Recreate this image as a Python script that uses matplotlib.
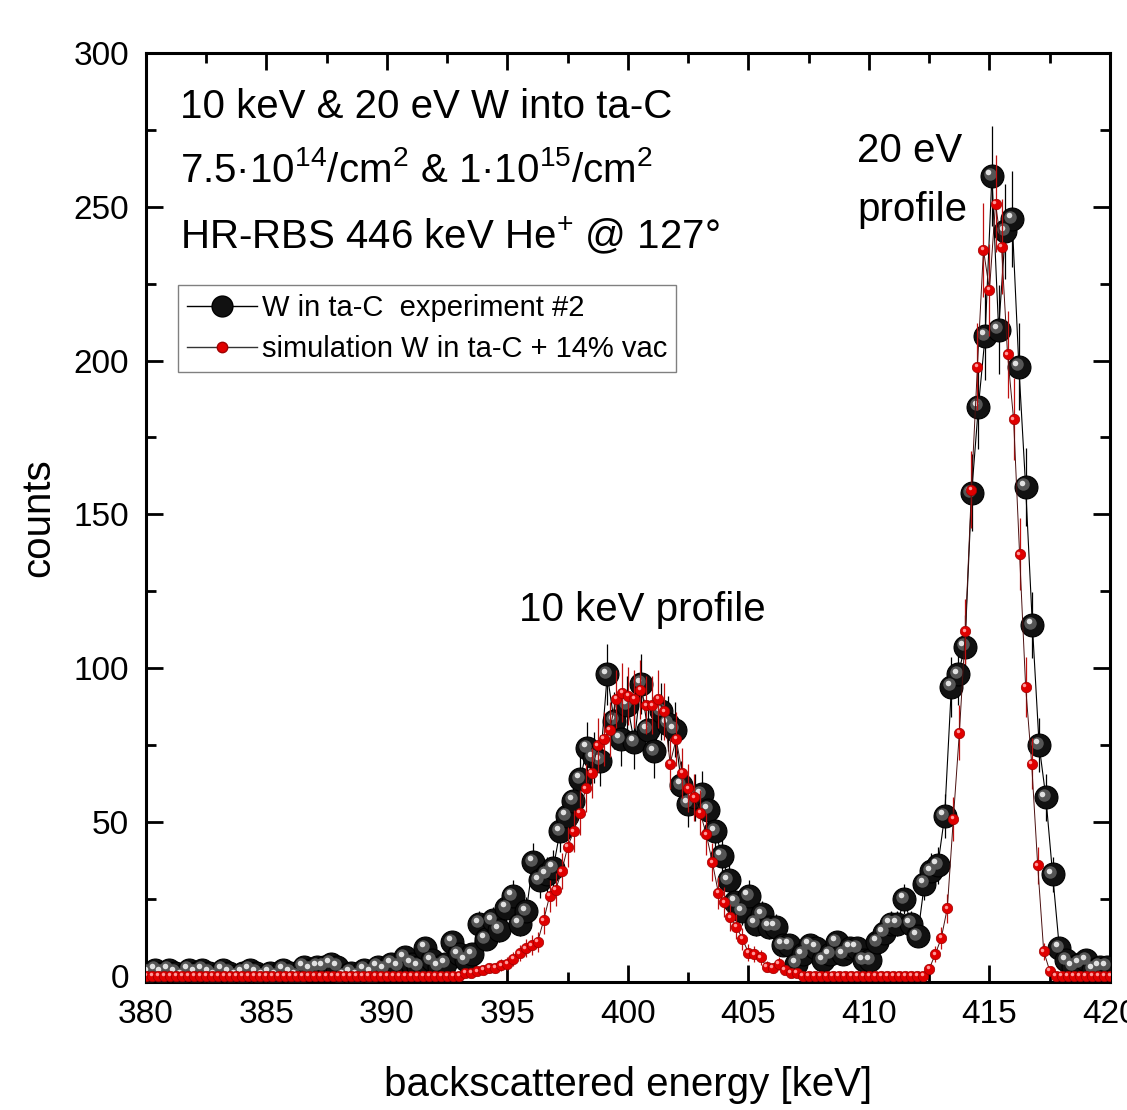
import numpy as np
import matplotlib
matplotlib.use('Agg')
import matplotlib.pyplot as plt
from matplotlib.lines import Line2D
from matplotlib.transforms import offset_copy
from matplotlib.ticker import MultipleLocator

plt.rcParams['font.family'] = ['Liberation Sans', 'DejaVu Sans']
plt.rcParams['mathtext.default'] = 'regular'

# experiment #2 (black), channel calibration and counts
exp_start, exp_step = 380.1, 0.28
exp_counts = [1, 2, 1, 2, 1, 0, 2, 1, 2, 1, 0, 2, 1, 0, 1, 2, 1, 0, 1, 0,
              2, 1, 0, 3, 2, 3, 3, 4, 3, 0, 1, 0, 2, 1,
              3, 2,
              4, 3, 6, 4, 3, 9, 5, 3, 4, 11, 7, 5, 7,
              17, 12, 18, 15, 22, 26, 17, 21, 37, 31, 33, 35,
              47, 52, 57, 64, 74, 71, 70,
              98, 83, 77, 88, 76, 95, 80, 73, 86, 82, 80,
              62, 56, 58, 59, 54, 47, 39, 31, 24, 21, 26, 17, 20, 16, 16, 10, 10, 4, 7, 10, 9,
              5, 7, 11, 7, 9, 9, 5, 5, 11, 14, 17, 17, 25, 17, 13,
              30, 34, 36, 52, 94, 98, 107, 157, 185, 208, 260, 210, 242, 246, 198, 159, 114, 75, 58, 33, 9,
              5, 3, 4, 5, 2, 3, 3]

# simulation W in ta-C + 14% vac (red)
sim_start, sim_step = 380.0, 0.25
sim_counts = ([0] * 53 +
              [1, 1, 1.5, 2, 2.6, 2.6, 3.5, 4, 5.5, 7.4, 9, 10, 11, 18, 26, 28, 34, 42, 47, 53,
               61, 66, 75, 77, 80, 90, 92, 91, 90, 93, 88, 88, 90, 86, 69, 77, 66, 61, 58, 53,
               46, 37, 27, 24, 19, 16, 12, 7.5, 7, 6, 3, 2.6, 4, 2, 1, 1] +
              [0] * 21 +
              [2.3, 7, 12.3, 22, 51, 79, 112, 158, 198, 236, 223, 251, 237, 202, 181, 137, 94,
               69, 36, 8, 1.6] +
              [0] * 10)

exp_counts = np.array(exp_counts, dtype=float)
sim_counts = np.array(sim_counts, dtype=float)
exp_e = exp_start + exp_step * np.arange(len(exp_counts))
sim_e = sim_start + sim_step * np.arange(len(sim_counts))

fig = plt.figure(figsize=(11.27, 11.10), dpi=100)
ax = fig.add_axes([0.1295, 0.1153, 0.8554, 0.837])

# experiment
ax.errorbar(exp_e, exp_counts, yerr=np.sqrt(exp_counts), fmt='-', color='black', lw=0.8,
            elinewidth=0.9, ecolor='black', zorder=2)
ax.plot(exp_e, exp_counts, 'o', ms=16.5, mfc='#111111', mec='black', mew=0.8, zorder=3)
tr1 = offset_copy(ax.transData, fig=fig, x=-1.7, y=1.7, units='points')
tr2 = offset_copy(ax.transData, fig=fig, x=-2.5, y=2.7, units='points')
ax.plot(exp_e, exp_counts, 'o', ms=9, color='#555555', mew=0, transform=tr1, zorder=3.1)
ax.plot(exp_e, exp_counts, 'o', ms=4, color='#e0e0e0', mew=0, transform=tr2, zorder=3.2)

# simulation
ax.errorbar(sim_e, sim_counts, yerr=np.sqrt(sim_counts), fmt='-', color='#4a1010', lw=0.7,
            elinewidth=0.9, ecolor='#c01010', zorder=4)
ax.plot(sim_e, sim_counts, 'o', ms=7.5, mfc='#e00000', mec='#a00000', mew=0.5, zorder=5)
tr3 = offset_copy(ax.transData, fig=fig, x=-1.0, y=1.1, units='points')
ax.plot(sim_e, sim_counts, 'o', ms=2.5, color='#ff9a9a', mew=0, transform=tr3, zorder=5.1)

ax.set_xlim(380, 420)
ax.set_ylim(-2, 300)
ax.xaxis.set_major_locator(MultipleLocator(5))
ax.xaxis.set_minor_locator(MultipleLocator(2.5))
ax.yaxis.set_major_locator(MultipleLocator(50))
ax.yaxis.set_minor_locator(MultipleLocator(25))
ax.tick_params(which='both', direction='in', top=True, right=True, width=2, labelsize=24)
ax.tick_params(which='major', length=12)
ax.tick_params(which='minor', length=7)
ax.tick_params(axis='x', which='major', pad=12)
ax.tick_params(axis='y', which='major', pad=12)
for s in ax.spines.values():
    s.set_linewidth(2.2)

ax.set_xlabel('backscattered energy [keV]', fontsize=29, labelpad=26)
ax.set_ylabel('counts', fontsize=29, labelpad=12)

ax.text(0.035, 0.930, '10 keV & 20 eV W into ta-C', transform=ax.transAxes, fontsize=29, va='baseline')
ax.text(0.035, 0.861, '7.5·10$^{14}$/cm$^{2}$ & 1·10$^{15}$/cm$^{2}$', transform=ax.transAxes,
        fontsize=29, va='baseline')
ax.text(0.035, 0.790, 'HR-RBS 446 keV He$^{+}$ @ 127°', transform=ax.transAxes, fontsize=29, va='baseline')
ax.text(400.6, 119, '10 keV profile', fontsize=29, ha='center', va='center')
ax.text(409.5, 268, '20 eV', fontsize=29, ha='left', va='center')
ax.text(409.5, 249, 'profile', fontsize=29, ha='left', va='center')

handles = [Line2D([0], [0], color='black', lw=1, marker='o', ms=15, mfc='#111111', mec='black'),
           Line2D([0], [0], color='#333333', lw=1, marker='o', ms=7.5, mfc='#e00000', mec='#a00000')]
leg = ax.legend(handles, ['W in ta-C  experiment #2', 'simulation W in ta-C + 14% vac'],
                loc='upper left', bbox_to_anchor=(0.033, 0.750), borderaxespad=0, fontsize=21,
                frameon=True, fancybox=False, framealpha=1, edgecolor='#808080',
                handlelength=2.4, handletextpad=0.2, labelspacing=0.45, borderpad=0.3)
leg.get_frame().set_linewidth(1.0)

fig.savefig('out.png', dpi=100)
